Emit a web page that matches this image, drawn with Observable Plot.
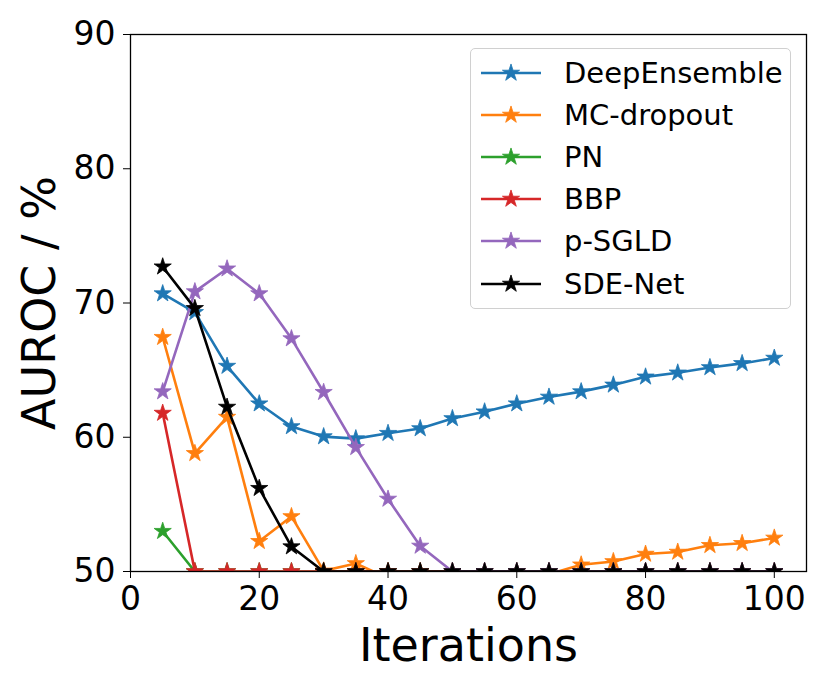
<!DOCTYPE html>
<html>
<head>
<meta charset="utf-8">
<script src="https://cdn.jsdelivr.net/npm/d3@7"></script>
<script src="https://cdn.jsdelivr.net/npm/@observablehq/plot@0.6"></script>
<style>
  body { margin: 0; background: white; }
  #wrap { position: relative; width: 830px; height: 692px; font-family: "DejaVu Sans", sans-serif; }
  #legend { position: absolute; left: 470px; top: 48px; width: 321px; height: 261px; box-sizing: border-box;
            border: 1.3px solid #d0d0d0; border-radius: 5px; background: rgba(255,255,255,0.85); }
  .row { position: absolute; left: 0; height: 40px; display: flex; align-items: center; }
  .row svg { margin-left: 9px; }
  .row span { margin-left: 22px; font-size: 29px; color: black; white-space: nowrap; }
</style>
</head>
<body>
<div id="wrap"></div>
<script>
const iterations = [5,10,15,20,25,30,35,40,45,50,55,60,65,70,75,80,85,90,95,100];
const seriesNames = ["DeepEnsemble","MC-dropout","PN","BBP","p-SGLD","SDE-Net"];
const colors = ["#1f77b4","#ff7f0e","#2ca02c","#d62728","#9467bd","#000000"];
const deepEnsemble = [70.7,69.3,65.3,62.5,60.8,60.05,59.9,60.3,60.65,61.4,61.9,62.5,63.0,63.4,63.9,64.5,64.8,65.2,65.5,65.9];
const mcDropout   = [67.45,58.8,61.5,52.25,54.1,50.05,50.6,49.5,49.2,49.0,49.1,49.3,49.8,50.5,50.75,51.3,51.45,51.95,52.1,52.5];
const pn          = [53.0,50,50,50,50,50,50,50,50,50,50,50,50,50,50,50,50,50,50,50];
const bbp         = [61.8,50,50,50,50,50,50,50,50,50,50,50,50,50,50,50,50,50,50,50];
const pSGLD       = [63.4,70.85,72.55,70.7,67.35,63.35,59.25,55.4,51.9,50,50,50,50,50,50,50,50,50,50,50];
const sdeNet      = [72.7,69.6,62.25,56.2,51.85,50,50,50,50,50,50,50,50,50,50,50,50,50,50,50];
const values = [deepEnsemble, mcDropout, pn, bbp, pSGLD, sdeNet];
const xTicks = [0,20,40,60,80,100];
const yTicks = [50,60,70,80,90];

const marks = [];
seriesNames.forEach((name, i) => {
  const rows = iterations.map((it, j) => ({x: it, y: values[i][j]}));
  marks.push(Plot.line(rows, {x: "x", y: "y", stroke: colors[i], strokeWidth: 2.6, clip: true}));
  marks.push(Plot.dot(rows, {x: "x", y: "y", symbol: "star", r: 5.4, fill: colors[i], stroke: colors[i], strokeWidth: 0.8, clip: true}));
});

const chart = Plot.plot({
  width: 830, height: 692,
  marginLeft: 130, marginRight: 24, marginTop: 34, marginBottom: 121,
  style: {fontFamily: "DejaVu Sans", fontSize: "33px", background: "white", color: "black"},
  x: {domain: [0, 105]},
  y: {domain: [50, 90]},
  marks: [
    ...marks,
    Plot.frame({stroke: "black", strokeWidth: 1.3}),
    Plot.axisX({ticks: xTicks, tickSize: 7, tickPadding: 8, fontSize: 33, label: null, tickFormat: d => d}),
    Plot.axisY({ticks: yTicks, tickSize: 7, tickPadding: 8, fontSize: 33, label: null, tickFormat: d => d}),
    Plot.text(["Iterations"], {frameAnchor: "bottom", dy: 75, fontSize: 46, text: d => d, textAnchor: "middle", lineAnchor: "middle"}),
    Plot.text(["AUROC / %"], {frameAnchor: "left", dx: -90, rotate: -90, fontSize: 46, text: d => d, textAnchor: "middle", lineAnchor: "middle"})
  ]
});
const wrap = document.getElementById("wrap");
wrap.appendChild(chart);

const legend = document.createElement("div");
legend.id = "legend";
seriesNames.forEach((name, i) => {
  const row = document.createElement("div");
  row.className = "row";
  row.style.top = (3.5 + i * 42.2) + "px";
  const svg = d3.create("svg").attr("width", 62).attr("height", 20);
  svg.append("line").attr("x1", 1).attr("x2", 61).attr("y1", 10).attr("y2", 10)
     .attr("stroke", colors[i]).attr("stroke-width", 2.6);
  svg.append("path").attr("d", d3.symbol(d3.symbolStar, Math.PI * 5.4 * 5.4)())
     .attr("transform", "translate(31,10)").attr("fill", colors[i]).attr("stroke", colors[i]).attr("stroke-width", 0.8);
  row.appendChild(svg.node());
  const span = document.createElement("span");
  span.textContent = name;
  row.appendChild(span);
  legend.appendChild(row);
});
wrap.appendChild(legend);
</script>
</body>
</html>
